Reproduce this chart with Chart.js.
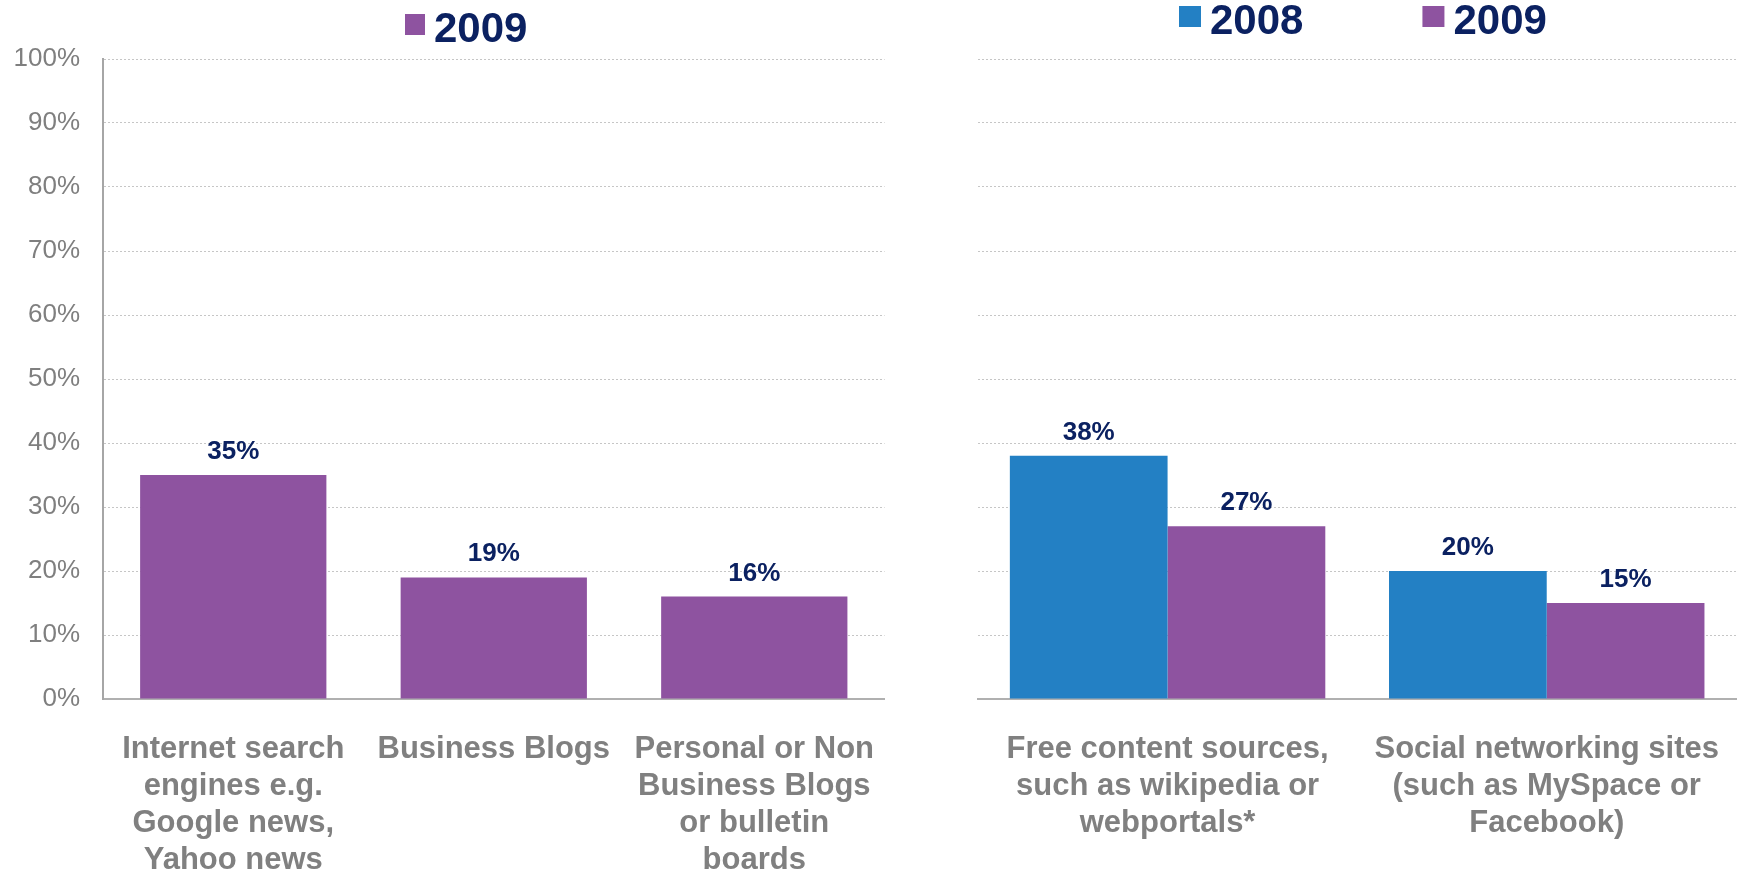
<!DOCTYPE html>
<html>
<head>
<meta charset="utf-8">
<script src="https://cdn.jsdelivr.net/npm/chart.js@4.4.1/dist/chart.umd.min.js"></script>
<style>
  html, body { margin: 0; padding: 0; background: #fff; overflow: hidden; }
  .panel { position: absolute; top: 0; height: 870px; }
  #leftPanel { left: 0; width: 906px; }
  #rightPanel { left: 900px; width: 851px; }
</style>
</head>
<body>
<div class="panel" id="leftPanel"><canvas id="sourcesChart" width="906" height="870"></canvas></div>
<div class="panel" id="rightPanel"><canvas id="compareChart" width="851" height="870"></canvas></div>
<script>
// left panel: 2009 only
const sourceCategories = [
    ['Internet search', 'engines e.g.', 'Google news,', 'Yahoo news'],
    ['Business Blogs'],
    ['Personal or Non', 'Business Blogs', 'or bulletin', 'boards']
];
const sourceValues2009 = [35, 19, 16];

// right panel: 2008 vs 2009
const compareCategories = [
    ['Free content sources,', 'such as wikipedia or', 'webportals*'],
    ['Social networking sites', '(such as MySpace or', 'Facebook)']
];
const compareValues2008 = [38, 20];
const compareValues2009 = [27, 15];

const seriesNames = ['2008', '2009'];

const BLUE = '#2380C4';
const PURPLE = '#8E53A0';
const NAVY = '#0B2161';
const GREY_TEXT = '#7F7F7F';
const FONT = '"Liberation Sans", Arial, sans-serif';

// value printed above each bar
const valueLabels = {
    id: 'valueLabels',
    afterDatasetsDraw(chart) {
        const ctx = chart.ctx;
        ctx.save();
        ctx.font = 'bold 26px ' + FONT;
        ctx.fillStyle = NAVY;
        ctx.textAlign = 'center';
        ctx.textBaseline = 'alphabetic';
        chart.data.datasets.forEach(function(ds, i) {
            chart.getDatasetMeta(i).data.forEach(function(bar, j) {
                ctx.fillText(ds.data[j] + '%', bar.x, bar.y - 16);
            });
        });
        ctx.restore();
    }
};

// simple legend row: square + bold year
const yearLegend = {
    id: 'yearLegend',
    afterDraw(chart, args, opts) {
        const ctx = chart.ctx;
        ctx.save();
        ctx.font = 'bold 42px ' + FONT;
        ctx.textBaseline = 'alphabetic';
        let x = opts.x;
        chart.data.datasets.forEach(function(ds) {
            ctx.fillStyle = ds.backgroundColor;
            ctx.fillRect(x, opts.baseline - 28, opts.box, 21);
            x += opts.box + 9;
            ctx.fillStyle = NAVY;
            ctx.fillText(ds.label, x, opts.baseline);
            x += ctx.measureText(ds.label).width + opts.gap;
        });
        ctx.restore();
    }
};

function yScale(showLabels, width) {
    return {
        min: 0,
        max: 100,
        afterFit: function(scale) { scale.width = width; },
        ticks: {
            display: showLabels,
            stepSize: 10,
            padding: 23,
            color: GREY_TEXT,
            font: { family: FONT, size: 26 },
            callback: function(v) { return v + '%'; }
        },
        grid: { color: '#C6C6C6', lineWidth: 1, drawTicks: false },
        border: { display: showLabels, color: '#A6A6A6', width: 2, dash: [2, 2] }
    };
}

const xScale = {
    afterFit: function(scale) { scale.height = 171; },
    ticks: {
        padding: 32,
        maxRotation: 0,
        autoSkip: false,
        color: '#808080',
        font: { family: FONT, size: 31, weight: 'bold', lineHeight: 1.19 }
    },
    grid: { display: false, drawTicks: false },
    border: { display: true, color: '#B0B0B0', width: 2 }
};

new Chart(document.getElementById('sourcesChart'), {
    type: 'bar',
    data: {
        labels: sourceCategories,
        datasets: [{
            label: seriesNames[1],
            data: sourceValues2009,
            backgroundColor: PURPLE,
            categoryPercentage: 1,
            barPercentage: 0.715
        }]
    },
    options: {
        responsive: false,
        animation: false,
        layout: { padding: { top: 59, right: 0, left: 0, bottom: 0 } },
        scales: { x: xScale, y: yScale(true, 103) },
        plugins: {
            legend: { display: false },
            tooltip: { enabled: false },
            yearLegend: { x: 405, baseline: 42, box: 20, gap: 0 }
        }
    },
    plugins: [valueLabels, yearLegend]
});

new Chart(document.getElementById('compareChart'), {
    type: 'bar',
    data: {
        labels: compareCategories,
        datasets: [{
            label: seriesNames[0],
            data: compareValues2008,
            backgroundColor: BLUE,
            categoryPercentage: 0.832,
            barPercentage: 1
        }, {
            label: seriesNames[1],
            data: compareValues2009,
            backgroundColor: PURPLE,
            categoryPercentage: 0.832,
            barPercentage: 1
        }]
    },
    options: {
        responsive: false,
        animation: false,
        layout: { padding: { top: 59, right: 0, left: 0, bottom: 0 } },
        scales: { x: xScale, y: yScale(false, 78) },
        plugins: {
            legend: { display: false },
            tooltip: { enabled: false },
            yearLegend: { x: 279, baseline: 34, box: 22, gap: 119 }
        }
    },
    plugins: [valueLabels, yearLegend]
});
</script>
</body>
</html>
